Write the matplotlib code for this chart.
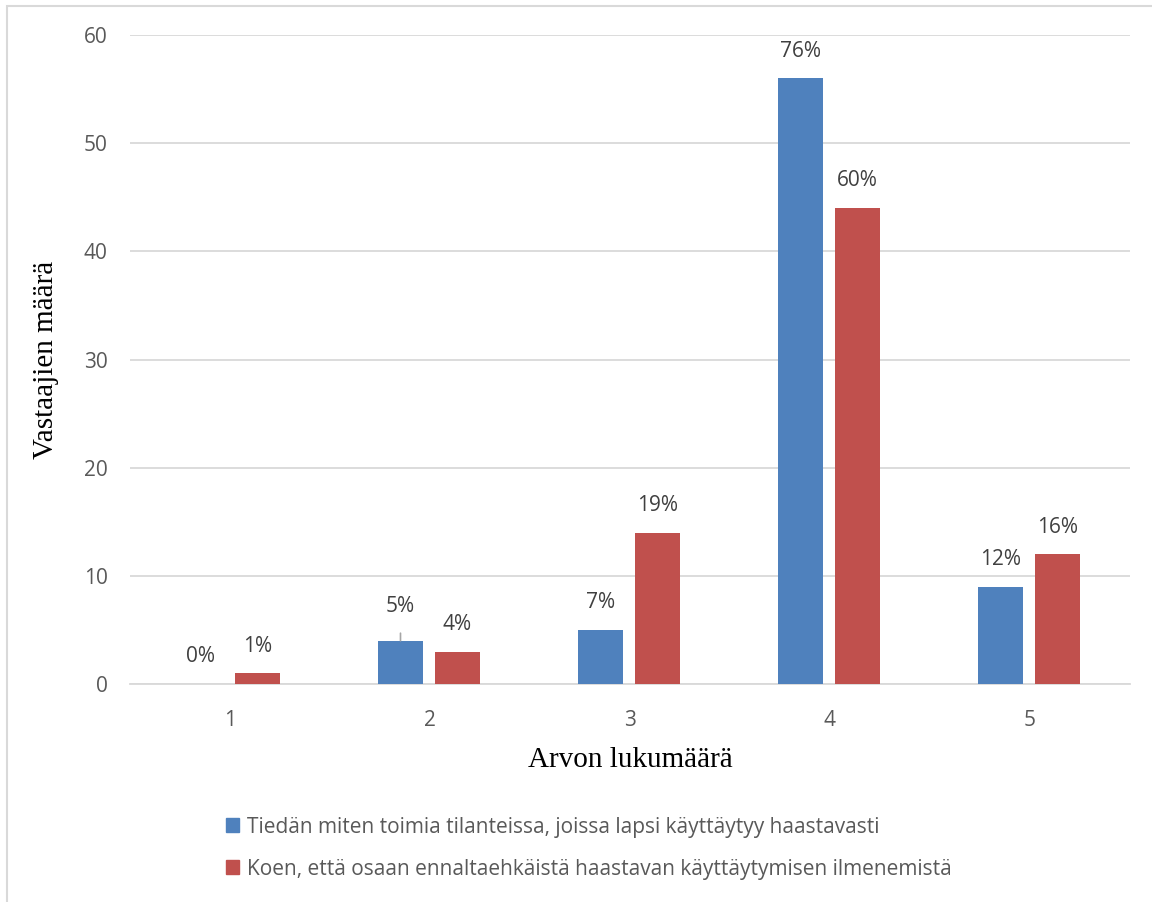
import matplotlib
matplotlib.use("Agg")
import matplotlib.pyplot as plt
from matplotlib.patches import Rectangle, Patch
import numpy as np

categories = ["1", "2", "3", "4", "5"]
series1_name = "Tiedän miten toimia tilanteissa, joissa lapsi käyttäytyy haastavasti"
series2_name = "Koen, että osaan ennaltaehkäistä haastavan käyttäytymisen ilmenemistä"
series1 = [0, 4, 5, 56, 9]
series2 = [1, 3, 14, 44, 12]
labels1 = ["0%", "5%", "7%", "76%", "12%"]
labels2 = ["1%", "4%", "19%", "60%", "16%"]
yticks = [0, 10, 20, 30, 40, 50, 60]

blue = "#4f81bd"
red = "#c0504d"
grid_c = "#d9d9d9"
tick_c = "#595959"
lab_c = "#404040"
sans = ["Open Sans", "DejaVu Sans"]
serif = ["Liberation Serif", "DejaVu Serif"]
fs = 15

fig = plt.figure(figsize=(11.52, 9.02), dpi=100)
fig.patches.append(Rectangle((7/1152, -0.1), 1.2, 1 - 6/902 + 0.1, transform=fig.transFigure,
                             fill=False, edgecolor=grid_c, lw=1.5))
ax = fig.add_axes([130/1152, 1 - 684/902, 1000/1152, (684 - 35)/902])

x = np.arange(1, len(categories) + 1)
w = 0.225
off1, off2 = -0.1475, 0.1375
ax.bar(x + off1, series1, w, color=blue, zorder=3)
ax.bar(x + off2, series2, w, color=red, zorder=3)

ax.set_xlim(0.5, 5.5)
ax.set_ylim(0, 60)
ax.set_yticks(yticks)
ax.set_xticks(x)
ax.set_xticklabels(categories)
for s in ["top", "right", "left"]:
    ax.spines[s].set_visible(False)
ax.spines["bottom"].set_color(grid_c)
ax.spines["bottom"].set_linewidth(1.3)
ax.yaxis.grid(True, color=grid_c, lw=1.3, zorder=0)
ax.tick_params(axis="both", length=0, labelcolor=tick_c, labelsize=fs)
ax.tick_params(axis="y", pad=16)
ax.tick_params(axis="x", pad=19)
for t in ax.get_xticklabels() + ax.get_yticklabels():
    t.set_family(sans)

ax.set_xlabel("Arvon lukumäärä", family=serif, fontsize=21, color="black", labelpad=11)
ax.set_ylabel("Vastaajien määrä", family=serif, fontsize=21, color="black", labelpad=18)

for i, (xi, v, lab) in enumerate(zip(x, series1, labels1)):
    if i == 1:
        ax.annotate(lab, xy=(xi + off1, v), xytext=(0, 25), textcoords="offset points",
                    ha="center", va="center", fontsize=fs, color=lab_c, family=sans,
                    arrowprops=dict(arrowstyle="-", color="#a6a6a6", lw=1.2,
                                    shrinkA=10, shrinkB=0))
    else:
        ax.annotate(lab, xy=(xi + off1, v), xytext=(0, 19.5), textcoords="offset points",
                    ha="center", va="center", fontsize=fs, color=lab_c, family=sans)
for xi, v, lab in zip(x, series2, labels2):
    ax.annotate(lab, xy=(xi + off2, v), xytext=(0, 19.5), textcoords="offset points",
                ha="center", va="center", fontsize=fs, color=lab_c, family=sans)

handles = [Patch(color=blue), Patch(color=red)]
leg = fig.legend(handles, [series1_name, series2_name], loc="upper left",
                 bbox_to_anchor=(207/1152, 1 - 798/902), frameon=False,
                 handlelength=0.65, handleheight=0.65, handletextpad=0.35,
                 labelspacing=1.0, prop={"family": sans, "size": fs})
for t in leg.get_texts():
    t.set_color(tick_c)

fig.savefig("out.png", dpi=100)
